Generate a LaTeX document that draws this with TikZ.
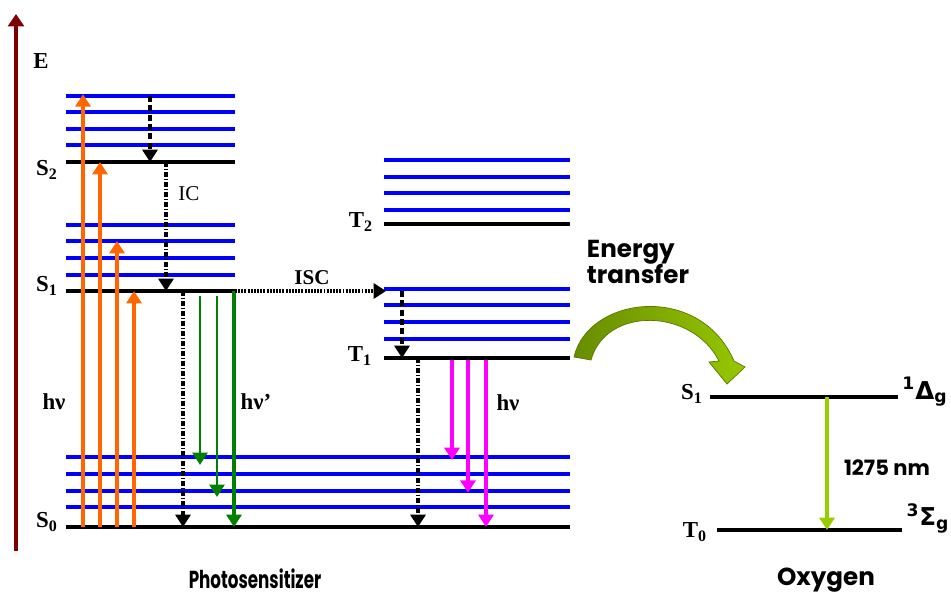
\documentclass[tikz,border=0pt]{standalone}
\usepackage{fontspec}
\setmainfont{Liberation Serif}
\newfontfamily\gothic{Poppins}
\newfontfamily\greeksans{DejaVu Sans}
\usepackage{xcolor}
\usepackage{graphicx}
\usepackage{tikz}
\usetikzlibrary{arrows.meta}

\definecolor{axisred}{RGB}{128,0,0}
\definecolor{excorange}{RGB}{255,102,0}
\definecolor{fluogreen}{RGB}{0,128,0}
\definecolor{phosmag}{RGB}{255,0,255}
\definecolor{oxlime}{RGB}{153,204,0}
\definecolor{etdark}{RGB}{104,140,0}
\definecolor{etlight}{RGB}{150,200,0}

\begin{document}
\begin{tikzpicture}[x=0.02cm, y=-0.02cm]

\tikzstyle{level} = [line width=2.5pt]
\tikzstyle{vib} = [line width=1.9pt, blue]
\tikzstyle{lab} = [font=\bfseries\fontsize{13}{14}\selectfont, inner sep=0pt]
\tikzstyle{title} = [font=\gothic\bfseries\fontsize{14}{16}\selectfont, inner sep=0pt]
\tikzstyle{tip} = [-{Triangle[width=8.5pt,length=7pt]}]
\tikzstyle{exc} = [tip, line width=2.1pt, excorange]
\tikzstyle{fluo} = [tip, line width=1.5pt, fluogreen]
\tikzstyle{phos} = [tip, line width=1.8pt, phosmag]
\tikzstyle{relax} = [tip, line width=2pt, dash pattern=on 3.5pt off 1.8pt]
\tikzstyle{ic} = [tip, line width=2pt, dash pattern=on 2.6pt off 1.1pt on 0.9pt off 1.1pt]

\useasboundingbox (0,0) rectangle (951,596);

% energy axis
\coordinate (Ebot) at (16,551);
\coordinate (Etop) at (16,14);
\draw [line width=1.9pt, axisred, -{Triangle[width=9pt,length=7pt]}] (Ebot) -- (Etop);
\node (E) [lab] at (41,61) {E};

% photosensitizer: singlet levels
\foreach \y [count=\i] in {96,112,129,145} \draw [vib] (66,\y) coordinate (s2v\i) -- (235,\y);
\foreach \y [count=\i] in {225,241,258,275} \draw [vib] (66,\y) coordinate (s1v\i) -- (235,\y);
\foreach \y [count=\i] in {457,474,491,507} \draw [vib] (66,\y) coordinate (s0v\i) -- (570,\y);
\draw [level] (66,162) coordinate (S2) -- (235,162);
\draw [level] (66,291) coordinate (S1) -- (235,291) coordinate (S1r);
\draw [level] (66,527) coordinate (S0) -- (570,527);

% photosensitizer: triplet levels
\foreach \y [count=\i] in {160,177,193,210} \draw [vib] (384,\y) coordinate (t2v\i) -- (570,\y);
\foreach \y [count=\i] in {289,305,322,339} \draw [vib] (384,\y) coordinate (t1v\i) -- (570,\y);
\draw [level] (384,224) coordinate (T2) -- (570,224);
\draw [level] (384,358) coordinate (T1) -- (570,358);

\node (labS2) [lab] at (47,170) {S\textsubscript{2}};
\node (labS1) [lab] at (47,286) {S\textsubscript{1}};
\node (labS0) [lab] at (47,522) {S\textsubscript{0}};
\node (labT2) [lab] at (361,222) {T\textsubscript{2}};
\node (labT1) [lab] at (360,356) {T\textsubscript{1}};

% arrow columns
\foreach \n/\x in {a/83,b/100,c/117,d/134,e/150,f/166,g/183,h/200,i/217,j/234,k/402,l/418,m/452,n/468,o/486}
  \coordinate (col\n) at (\x,0);

% absorption
\draw [exc] (cola |- S0) -- ([yshift=1pt]cola |- s2v1);
\draw [exc] (colb |- S0) -- (colb |- S2);
\draw [exc] (colc |- S0) -- (colc |- s1v2);
\draw [exc] (cold |- S0) -- (cold |- S1);
\node (hv) [lab] at (54,402) {hν};

% relaxation and internal conversion
\draw [relax] (cole |- s2v1) -- (cole |- S2);
\draw [ic] (colf |- S2) -- (colf |- S1);
\node (IC) [font=\fontsize{12}{13}\selectfont, inner sep=0pt] at (189,194) {IC};
\draw [ic] (colg |- S1) -- (colg |- S0);

% fluorescence
\draw [fluo] ([yshift=-3pt]colh |- S1) -- ([yshift=-4.5pt]colh |- s0v1);
\draw [fluo] ([yshift=-3pt]coli |- S1) -- ([yshift=-3.4pt]coli |- s0v3);
\draw [fluo, line width=2.2pt] (colj |- S1) -- (colj |- S0);
\node (hvf) [lab] at (256,402) {hν'};

% intersystem crossing
\coordinate (T1top) at (386,291);
\draw [tip, line width=1.8pt, dash pattern=on 1.1pt off 0.7pt] (S1r) -- (T1top);
\node (ISC) [lab, font=\bfseries\fontsize{12}{13}\selectfont] at (312,278) {ISC};
\draw [relax] (colk |- T1top) -- (colk |- T1);
\draw [ic] (coll |- T1) -- (coll |- S0);

% phosphorescence
\draw [phos] ([yshift=-1pt]colm |- T1) -- ([yshift=-1.7pt]colm |- s0v1);
\draw [phos] ([yshift=-1pt]coln |- T1) -- ([yshift=-1pt]coln |- s0v3);
\draw [phos] ([yshift=-1pt]colo |- T1) -- (colo |- S0);
\node (hvp) [lab] at (508,403) {hν};

% energy transfer
\shade [left color=etdark, right color=etlight, draw=etdark!85!black, line width=0.4pt]
  (574,357) .. controls (588,296) and (700,282) .. (734,361)
  -- (745,367) -- (727,384) -- (709,362) -- (719,361)
  .. controls (692,308) and (606,306) .. (591,360) -- cycle;
\node (ET) [title, align=left] at (638,262) {Energy\\[-1pt]transfer};

% oxygen
\draw [level] (710,397) coordinate (OS1) -- (898,397);
\draw [level] (717,530) coordinate (OT0) -- (902,530);
\node (labOS1) [lab] at (692,394) {S\textsubscript{1}};
\node (labOT0) [lab] at (695,532) {T\textsubscript{0}};
\coordinate (colp) at (827,0);
\draw [tip, line width=1.8pt, oxlime] (colp |- OS1) -- (colp |- OT0);
\node (nm) [title, font=\gothic\bfseries\fontsize{12}{14}\selectfont] at (887,468) {1275 nm};
\node (Dg) [inner sep=0pt, font=\greeksans\bfseries\fontsize{14}{16}\selectfont] at (925,392) {\textsuperscript{1}Δ\textsubscript{g}};
\node (Sg) [inner sep=0pt, font=\greeksans\bfseries\fontsize{14}{16}\selectfont] at (928,518) {\textsuperscript{3}Σ\textsubscript{g}};

\node (PS) [title] at (255,579) {\scalebox{0.68}[1]{Photosensitizer}};
\node (Ox) [title] at (826,580) {Oxygen};

\end{tikzpicture}
\end{document}
